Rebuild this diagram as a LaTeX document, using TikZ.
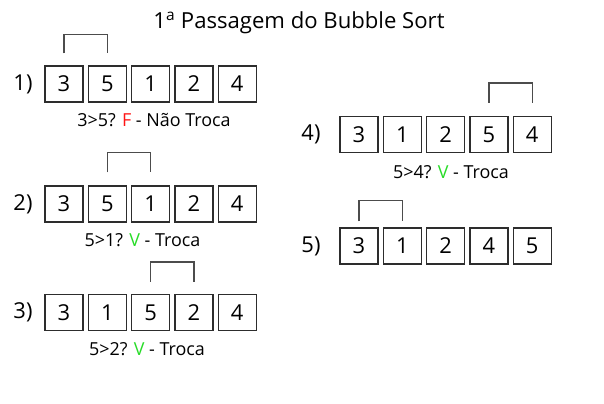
\documentclass[tikz,border=0pt]{standalone}
\usepackage{fontspec}
\setmainfont{Open Sans}
\definecolor{fcol}{RGB}{255,20,20}
\definecolor{vcol}{RGB}{40,220,40}
\definecolor{linec}{RGB}{45,45,45}
\begin{document}
\begin{tikzpicture}[x=1bp,y=-1bp,
  cell/.style={draw=linec,line width=1.25bp,minimum width=38bp,minimum height=36bp,inner sep=0pt,font=\fontsize{22}{24}\selectfont},
  rowlab/.style={font=\fontsize{22}{24}\selectfont,inner sep=0pt},
  caption/.style={font=\fontsize{18}{20}\selectfont,inner sep=0pt,anchor=base},
  bracket/.style={draw=linec!85!white,line width=1.25bp}]
\useasboundingbox[fill=white] (0,0) rectangle (604,403);
\node[font=\fontsize{22.2}{25}\selectfont,anchor=base,inner sep=0pt] (title) at (299,28) {1\textsuperscript{a} Passagem do Bubble Sort};
% row 1
\node[rowlab] (l1) at (23,84) {1)};
\foreach \v [count=\i] in {3,5,1,2,4}
  \node[cell] (a\i) at ({64+43.3*(\i-1)},84) {\v};
\draw[bracket] ([yshift=12bp]a1.north) -- ([yshift=31bp]a1.north) -- ([yshift=31bp]a2.north) -- ([yshift=12bp]a2.north);
\node[caption] (c1) at (154,126) {3>5? \textcolor{fcol}{F} - Não Troca};
% row 2
\node[rowlab] (l2) at (23,204) {2)};
\foreach \v [count=\i] in {3,5,1,2,4}
  \node[cell] (b\i) at ({64+43.3*(\i-1)},204) {\v};
\draw[bracket] ([yshift=13bp]b2.north) -- ([yshift=33bp]b2.north) -- ([yshift=33bp]b3.north) -- ([yshift=13bp]b3.north);
\node[caption] (c2) at (142.5,246) {5>1? \textcolor{vcol}{V} - Troca};
% row 3
\node[rowlab] (l3) at (23,312.5) {3)};
\foreach \v [count=\i] in {3,1,5,2,4}
  \node[cell] (d\i) at ({64+43.3*(\i-1)},312.5) {\v};
\draw[bracket] ([yshift=12bp]d3.north) -- ([yshift=32bp]d3.north) -- ([yshift=32bp]d4.north) -- ([yshift=12bp]d4.north);
\node[caption] (c3) at (147,355) {5>2? \textcolor{vcol}{V} - Troca};
% row 4
\node[rowlab] (l4) at (311,134.5) {4)};
\foreach \v [count=\i] in {3,1,2,5,4}
  \node[cell] (e\i) at ({359+43.3*(\i-1)},134.5) {\v};
\draw[bracket] ([yshift=13bp]e4.north) -- ([yshift=33bp]e4.north) -- ([yshift=33bp]e5.north) -- ([yshift=13bp]e5.north);
\node[caption] (c4) at (451,178) {5>4? \textcolor{vcol}{V} - Troca};
% row 5
\node[rowlab] (l5) at (311,246) {5)};
\foreach \v [count=\i] in {3,1,2,4,5}
  \node[cell] (f\i) at ({359+43.3*(\i-1)},246) {\v};
\draw[bracket] ([yshift=6bp]f1.north) -- ([yshift=27bp]f1.north) -- ([yshift=27bp]f2.north) -- ([yshift=6bp]f2.north);
\end{tikzpicture}
\end{document}
